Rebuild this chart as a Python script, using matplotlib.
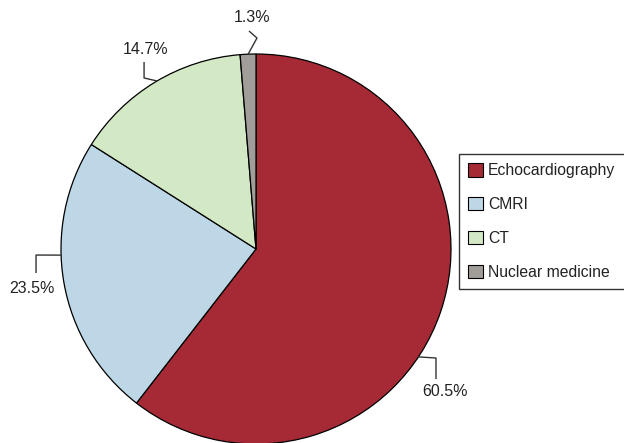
import numpy as np
import matplotlib
matplotlib.use('Agg')
import matplotlib.pyplot as plt

plt.rcParams.update({'font.family': ['Liberation Sans', 'DejaVu Sans']})

modalities = ['Echocardiography', 'CMRI', 'CT', 'Nuclear medicine']
shares = [60.5, 23.5, 14.7, 1.3]
colors = ['#a52a36', '#bed7e6', '#d3e8c4', '#a19d99']

# label layout: angle on the rim where the leader starts,
# the bend points of the leader and where the text sits (data units)
label_angles = [-33.6, 181.8, 120.5, 92.3]
label_bends = [[(0.923, -0.559), (0.923, -0.667)],
               [(-1.128, -0.031), (-1.128, -0.123)],
               [(-0.574, 0.877), (-0.574, 0.959)],
               [(0.005, 1.082), (-0.036, 1.118)]]
label_xy = [(0.969, -0.733), (-1.149, -0.205), (-0.564, 1.021),
            (-0.021, 1.185)]

W, H, R = 624, 443, 195.0  # figure size and pie radius in px
cx, cy = 256, 249           # pie centre in px (from top left)

fig = plt.figure(figsize=(W / 100, H / 100), dpi=100)
ax = fig.add_axes([0, 0, 1, 1])
wedges, _ = ax.pie(shares, colors=colors, startangle=90, counterclock=False,
                   wedgeprops={'edgecolor': 'black', 'linewidth': 0.9})
ax.set_xlim(-cx / R, (W - cx) / R)
ax.set_ylim(-(H - cy) / R, cy / R)
ax.set_aspect('auto')
ax.axis('off')

for val, ang, bends, (tx, ty) in zip(shares, label_angles, label_bends,
                                     label_xy):
    a = np.radians(ang)
    xs = [np.cos(a)] + [b[0] for b in bends]
    ys = [np.sin(a)] + [b[1] for b in bends]
    ax.plot(xs, ys, '-', color='#333333', lw=1.0, solid_capstyle='butt')
    ax.text(tx, ty, f'{val:.1f}%', ha='center', va='center', fontsize=11.5,
            color='#222222')

leg = ax.legend(wedges, modalities, loc='upper left',
                bbox_to_anchor=(459 / W, 1 - 154 / H),
                bbox_transform=fig.transFigure, fontsize=11.3,
                frameon=True, fancybox=False, framealpha=1,
                edgecolor='#333333', borderpad=0.6, borderaxespad=0,
                handlelength=0.9, handleheight=0.9, handletextpad=0.35,
                labelspacing=1.2, labelcolor='#222222')
leg.get_frame().set_linewidth(1.0)
for h in leg.legend_handles:
    h.set_linewidth(0.8)
    h.set_edgecolor('black')

fig.savefig('out.png', dpi=100)
